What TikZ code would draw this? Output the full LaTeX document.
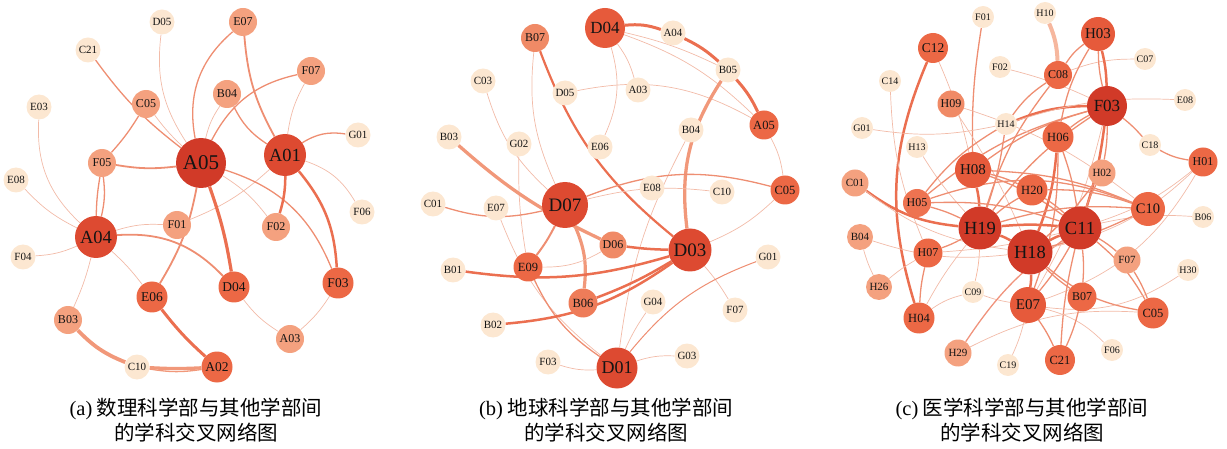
\documentclass[tikz,border=0pt]{standalone}
\usepackage{fontspec}
\setmainfont{Liberation Serif}
\newfontfamily\cjk{Noto Sans CJK SC}
\usetikzlibrary{backgrounds}
\definecolor{cPale}{HTML}{FCE7D1}
\definecolor{cSal}{HTML}{F4A17F}
\definecolor{cSalB}{HTML}{F08A66}
\definecolor{cOrg}{HTML}{EC6845}
\definecolor{cOrgB}{HTML}{E65A3B}
\definecolor{cRed}{HTML}{DD4A31}
\definecolor{cDark}{HTML}{D13A28}
\definecolor{eThin}{HTML}{F2BBA8}
\definecolor{eMid}{HTML}{EE8E72}
\definecolor{eThick}{HTML}{EB6F50}
\definecolor{eWide}{HTML}{F6B79E}
\definecolor{eSalmon}{HTML}{F1987A}
\tikzset{
  nd/.style={circle, inner sep=0pt, draw=none, text=black!92},
  npale/.style={nd, fill=cPale, minimum size=25pt, font=\fontsize{11}{11}\selectfont},
  nsal/.style={nd, fill=cSal, minimum size=28pt, font=\fontsize{12}{12}\selectfont},
  nsalb/.style={nd, fill=cSalB, minimum size=28pt, font=\fontsize{12}{12}\selectfont},
  norg/.style={nd, fill=cOrg, minimum size=31pt, font=\fontsize{13.5}{13.5}\selectfont},
  norgb/.style={nd, fill=cOrgB, minimum size=35pt, font=\fontsize{15}{15}\selectfont},
  nbig/.style={nd, fill=cRed, minimum size=42pt, font=\fontsize{18.5}{18.5}\selectfont},
  nhuge/.style={nd, fill=cDark, minimum size=50pt, font=\fontsize{21}{21}\selectfont},
  ethin/.style={draw=eThin, line width=0.7pt},
  emid/.style={draw=eMid, line width=1.3pt},
  ethick/.style={draw=eThick, line width=2.5pt},
  ewide/.style={draw=eWide, line width=4pt},
  esal/.style={draw=eSalmon, line width=3.3pt},
  cpale/.style={npale, minimum size=22pt, font=\fontsize{10}{10}\selectfont},
  captext/.style={align=center, font={\cjk\fontsize{20.5}{25}\selectfont}}
}
\begin{document}
\begin{tikzpicture}[x=1pt,y=-1pt]
\useasboundingbox (0,0) rectangle (1227,449);
% ---------------- panel (a)
\node[npale] (aD05) at (162,22) {D05};
\node[nsal]  (aE07) at (243,22) {E07};
\node[npale] (aC21) at (88,50) {C21};
\node[nsal]  (aF07) at (311,71) {F07};
\node[nsal]  (aB04) at (227,94) {B04};
\node[nsal]  (aC05) at (146,104) {C05};
\node[npale] (aE03) at (39,107) {E03};
\node[nhuge] (aA05) at (201,163) {A05};
\node[nbig]  (aA01) at (285,155) {A01};
\node[npale] (aG01) at (358,135) {G01};
\node[nsal]  (aF05) at (102,163) {F05};
\node[npale] (aE08) at (16,180) {E08};
\node[npale] (aF06) at (362,212) {F06};
\node[nsal]  (aF01) at (177,225) {F01};
\node[nbig]  (aA04) at (96,237) {A04};
\node[nsal]  (aF02) at (276,227) {F02};
\node[npale] (aF04) at (23,257) {F04};
\node[norg]  (aD04) at (234,287) {D04};
\node[norg]  (aF03) at (338,283) {F03};
\node[norg]  (aE06) at (152,297) {E06};
\node[nsal]  (aB03) at (68,320) {B03};
\node[nsal]  (aA03) at (290,339) {A03};
\node[npale] (aC10) at (137,367) {C10};
\node[norg]  (aA02) at (217,367) {A02};
% ---------------- panel (b)
\node[nsalb] (bB07) at (535,38) {B07};
\node[norgb, minimum size=40pt, font=\fontsize{17}{17}\selectfont] (bD04) at (605,28) {D04};
\node[npale] (bA04) at (673,33) {A04};
\node[npale] (bB05) at (728,70) {B05};
\node[npale] (bC03) at (483,81) {C03};
\node[npale] (bD05) at (565,93) {D05};
\node[npale] (bA03) at (638,90) {A03};
\node[norg, minimum size=29pt, font=\fontsize{12.5}{12.5}\selectfont] (bA05) at (764,125) {A05};
\node[npale] (bB04) at (691,130) {B04};
\node[npale] (bB03) at (449,137) {B03};
\node[npale] (bG02) at (519,144) {G02};
\node[npale] (bE06) at (600,147) {E06};
\node[npale] (bE08) at (652,188) {E08};
\node[npale] (bC10) at (722,192) {C10};
\node[norg, minimum size=29pt, font=\fontsize{12.5}{12.5}\selectfont] (bC05) at (785,190) {C05};
\node[npale] (bC01) at (433,204) {C01};
\node[npale] (bE07) at (496,208) {E07};
\node[nbig, minimum size=46pt, font=\fontsize{19}{19}\selectfont] (bD07) at (565,205) {D07};
\node[nsalb, minimum size=27pt] (bD06) at (613,245) {D06};
\node[nbig, minimum size=43pt, font=\fontsize{19}{19}\selectfont] (bD03) at (690,250) {D03};
\node[norg, minimum size=29pt, font=\fontsize{12.5}{12.5}\selectfont] (bE09) at (528,267) {E09};
\node[npale] (bB01) at (453,270) {B01};
\node[norg, fill=cSalB!60!cOrg, minimum size=29pt, font=\fontsize{12.5}{12.5}\selectfont] (bB06) at (583,303) {B06};
\node[npale] (bG01) at (768,257) {G01};
\node[npale] (bG04) at (653,302) {G04};
\node[npale] (bF07) at (735,310) {F07};
\node[npale] (bB02) at (493,325) {B02};
\node[npale] (bF03) at (548,362) {F03};
\node[npale] (bG03) at (687,356) {G03};
\node[nbig, minimum size=41pt, font=\fontsize{18}{18}\selectfont] (bD01) at (617,368) {D01};
% ---------------- panel (c)
\node[cpale] (cF01) at (983,17) {F01};
\node[cpale] (cH10) at (1045,13) {H10};
\node[norg, minimum size=30pt] (cC12) at (933,48) {C12};
\node[norgb, minimum size=34pt] (cH03) at (1098,34) {H03};
\node[cpale] (cF02) at (1000,67) {F02};
\node[cpale] (cC07) at (1145,59) {C07};
\node[norg, minimum size=28pt, font=\fontsize{12}{12}\selectfont] (cC08) at (1058,75) {C08};
\node[cpale] (cC14) at (890,81) {C14};
\node[nsalb, minimum size=27pt] (cH09) at (951,104) {H09};
\node[nhuge, minimum size=40pt, font=\fontsize{17}{17}\selectfont] (cF03) at (1107,106) {F03};
\node[cpale] (cE08) at (1185,100) {E08};
\node[cpale] (cG01) at (862,128) {G01};
\node[cpale] (cH14) at (1006,124) {H14};
\node[norg, minimum size=31pt, font=\fontsize{12.5}{12.5}\selectfont] (cH06) at (1058,137) {H06};
\node[cpale] (cC18) at (1150,145) {C18};
\node[cpale] (cH13) at (917,147) {H13};
\node[norg, minimum size=29pt, font=\fontsize{12}{12}\selectfont] (cH01) at (1203,162) {H01};
\node[norgb, minimum size=36pt] (cH08) at (973,170) {H08};
\node[nsal, minimum size=27pt, font=\fontsize{11}{11}\selectfont] (cH02) at (1102,173) {H02};
\node[nsal, minimum size=27pt, font=\fontsize{11}{11}\selectfont] (cC01) at (855,183) {C01};
\node[norg, minimum size=31pt, font=\fontsize{12.5}{12.5}\selectfont] (cH20) at (1032,190) {H20};
\node[norg, fill=cOrg!80!cSal, minimum size=28pt, font=\fontsize{12}{12}\selectfont] (cH05) at (917,203) {H05};
\node[norg, minimum size=34pt, font=\fontsize{14.5}{14.5}\selectfont] (cC10) at (1148,209) {C10};
\node[cpale] (cB06) at (1203,217) {B06};
\node[nbig, fill=cDark, minimum size=43pt] (cH19) at (980,228) {H19};
\node[nbig, fill=cDark, minimum size=43pt] (cC11) at (1080,228) {C11};
\node[nbig, fill=cDark, minimum size=45pt] (cH18) at (1030,252) {H18};
\node[norg, minimum size=29pt, font=\fontsize{12}{12}\selectfont] (cH07) at (928,253) {H07};
\node[nsal, minimum size=26pt, font=\fontsize{11}{11}\selectfont] (cB04) at (860,237) {B04};
\node[nsal, minimum size=27pt, font=\fontsize{11}{11}\selectfont] (cF07) at (1127,260) {F07};
\node[cpale] (cH30) at (1188,270) {H30};
\node[nsal, minimum size=26pt, font=\fontsize{11}{11}\selectfont] (cH26) at (879,287) {H26};
\node[cpale] (cC09) at (973,292) {C09};
\node[norg, minimum size=29pt, font=\fontsize{12}{12}\selectfont] (cB07) at (1082,297) {B07};
\node[norgb, minimum size=36pt] (cE07) at (1028,305) {E07};
\node[norg, minimum size=31pt, font=\fontsize{12.5}{12.5}\selectfont] (cC05) at (1153,313) {C05};
\node[norg, minimum size=31pt, font=\fontsize{12.5}{12.5}\selectfont] (cH04) at (919,318) {H04};
\node[cpale] (cF06) at (1112,350) {F06};
\node[nsal, minimum size=27pt, font=\fontsize{11}{11}\selectfont] (cH29) at (958,353) {H29};
\node[norg, minimum size=30pt, font=\fontsize{12.5}{12.5}\selectfont] (cC21) at (1060,360) {C21};
\node[cpale] (cC19) at (1008,365) {C19};
% ---------------- captions
\node[captext] (capa) at (196,420) {{\rmfamily(a)} 数理科学部与其他学部间\\的学科交叉网络图};
\node[captext] (capb) at (606,420) {{\rmfamily(b)} 地球科学部与其他学部间\\的学科交叉网络图};
\node[captext] (capc) at (1022,420) {{\rmfamily(c)} 医学科学部与其他学部间\\的学科交叉网络图};
% ---------------- edges
\begin{scope}[on background layer]
% panel (a)
\draw[ethin] (aD05) to[bend right=20] (aA05);
\draw[emid] (aC21) to[bend right=8] (aA05);
\draw[ethin] (aC05) to[bend right=5] (aA05);
\draw[emid] (aC05) to[bend left=5] (aF05);
\draw[emid] (aE07) to[bend right=30] (aA05);
\draw[emid, line width=1.8pt] (aE07) to[bend right=12] (aA01);
\draw[ethin] (aB04) to[bend right=10] (aA05);
\draw[emid] (aB04) to[bend right=15] (aA01);
\draw[emid] (aF07) to[bend right=25] (aA05);
\draw[ethin] (aF07) to[bend right=10] (aA01);
\draw[emid] (aG01) to[bend right=20] (aA01);
\draw[emid, line width=1.8pt] (aF05) to[bend right=8] (aA05);
\draw[emid] (aF05) to[bend left=10] (aA04);
\draw[emid] (aF05) to[bend right=4] (aA04);
\draw[ethin] (aE03) to[bend right=25] (aA04);
\draw[ethin] (aE08) to[bend right=10] (aA04);
\draw[ethin] (aF04) to[bend right=10] (aA04);
\draw[ethin] (aF01) to[bend right=10] (aA04);
\draw[ethin] (aF01) to[bend right=10] (aA01);
\draw[emid, line width=1.8pt] (aA04) to[bend left=25] (aD04);
\draw[ethin] (aA04) to[bend left=5] (aE06);
\draw[ethin] (aA04) to[bend left=5] (aB03);
\draw[ethick, line width=3.2pt] (aA05) to[bend left=5] (aD04);
\draw[emid, line width=1.8pt] (aA05) to[bend left=10] (aE06);
\draw[emid] (aA05) to[bend left=25] (aF03);
\draw[ethin] (aA05) to[bend left=10] (aF02);
\draw[ethick] (aA01) to[bend left=8] (aF02);
\draw[ethick] (aA01) to[bend left=18] (aF03);
\draw[ethin] (aA01) to[bend left=20] (aF06);
\draw[ethin] (aD04) to[bend right=10] (aA03);
\draw[ethin] (aA03) to[bend right=8] (aF03);
\draw[ethick, line width=3pt] (aE06) to[bend right=5] (aA02);
\draw[esal, line width=3.8pt] (aB03) to[bend right=12] (aC10);
\draw[esal] (aC10) to[bend right=3] (aA02);
\draw[emid, draw=eSalmon] (aC10) to[bend right=9] (aA02);
% panel (b)
\draw[ethick, line width=3pt] (bD04) to[bend left=12] (bA04);
\draw[ethick, line width=3pt] (bA04) to[bend left=8] (bB05);
\draw[ethick, line width=3pt] (bB05) to[bend left=8] (bA05);
\draw[ethin] (bD04) to[bend left=12] (bA05);
\draw[ethin] (bD04) to[bend left=6] (bB05);
\draw[ethin] (bD04) to[bend left=10] (bA03);
\draw[ethin] (bD04) to[bend left=20] (bE06);
\draw[ethin] (bD05) to[bend left=20] (bA05);
\draw[esal] (bB05) to[bend right=20] (bD03);
\draw[ethin] (bB04) to[bend right=10] (bD01);
\draw[emid, line width=2.2pt, draw=eThick] (bB07) to[bend right=15] (bD03);
\draw[ethin] (bB07) to[bend right=15] (bD07);
\draw[ethin] (bC03) to[bend right=15] (bD07);
\draw[ethin] (bG02) to[bend right=5] (bE09);
\draw[esal] (bB03) to[bend right=8] (bD06);
\draw[emid] (bC01) to[bend right=15] (bD07);
\draw[ethin] (bE07) to[bend right=15] (bD01);
\draw[emid, line width=2pt] (bD07) to[bend left=5] (bE09);
\draw[ethick, line width=3.2pt, draw=eSalmon] (bD07) to[bend left=15] (bB06);
\draw[emid] (bD07) to[bend left=18] (bC05);
\draw[ethin] (bD07) to[bend left=10] (bC10);
\draw[ethin] (bE09) to[bend right=15] (bD06);
\draw[emid] (bE09) to[bend right=15] (bD01);
\draw[ethick] (bB01) to[bend right=12] (bD03);
\draw[ethick] (bB02) to[bend right=15] (bD03);
\draw[ethick] (bB06) to[bend right=5] (bD03);
\draw[ethick] (bD06) to[bend right=3] (bD03);
\draw[ethin] (bD03) to[bend left=5] (bF07);
\draw[ethin] (bD03) to[bend right=10] (bC05);
\draw[ethin] (bA05) to[bend left=10] (bC05);
\draw[emid, line width=1pt] (bG01) to[bend right=15] (bD01);
\draw[ethin] (bG04) to[bend right=5] (bD01);
\draw[ethin] (bG03) to[bend right=10] (bD01);
\draw[ethin] (bF03) to[bend right=10] (bD01);
% panel (c)
\draw[ewide] (cH10) to[bend left=10] (cC08);
\draw[emid] (cC08) to[bend left=10] (cH03);
\draw[ethin] (cC07) to[bend right=10] (cC08);
\draw[emid] (cC08) to[bend right=10] (cH14);
\draw[emid] (cC08) to[bend right=10] (cH19);
\draw[ethick] (cH03) to[bend left=6] (cF03);
\draw[emid] (cH03) to[bend right=6] (cF03);
\draw[emid] (cH03) to[bend right=10] (cH06);
\draw[ethick] (cF03) to[bend right=10] (cH14);
\draw[emid] (cF03) to[bend right=5] (cH06);
\draw[emid] (cF03) to[bend right=10] (cH08);
\draw[emid] (cF03) to[bend right=10] (cH19);
\draw[emid] (cF03) to[bend left=5] (cH02);
\draw[emid] (cF03) to[bend left=5] (cC18);
\draw[ethick] (cF03) to[bend left=5] (cC11);
\draw[emid] (cF03) to[bend right=12] (cH05);
\draw[ethin] (cF03) to[bend left=8] (cE07);
\draw[ethin] (cE08) to[bend right=10] (cH14);
\draw[emid] (cC18) to[bend right=10] (cH01);
\draw[ethin] (cH01) to[bend left=10] (cC11);
\draw[ethin] (cH01) to[bend left=20] (cE07);
\draw[emid] (cF01) to[bend right=5] (cH08);
\draw[ethin] (cF02) to[bend left=5] (cF03);
\draw[ethick] (cC12) to[bend right=20] (cH04);
\draw[ethin] (cC12) to[bend left=5] (cH08);
\draw[ethin] (cC14) to[bend right=10] (cH07);
\draw[ethin] (cH09) to[bend left=5] (cH18);
\draw[ethin] (cH09) to[bend left=10] (cC10);
\draw[ethin] (cG01) to[bend right=10] (cH14);
\draw[ethin] (cH13) to[bend right=5] (cH19);
\draw[ethick] (cC01) to[bend right=15] (cH19);
\draw[ethin] (cC01) to[bend right=15] (cH18);
\draw[emid] (cH14) to[bend right=10] (cH05);
\draw[emid] (cH14) to[bend left=5] (cH19);
\draw[ethick] (cH08) to[bend left=5] (cH19);
\draw[emid] (cH08) to[bend left=8] (cC11);
\draw[emid] (cH08) to[bend left=5] (cH20);
\draw[emid] (cH08) to[bend left=10] (cC10);
\draw[emid] (cH06) to[bend left=5] (cC11);
\draw[ethick] (cH06) to[bend left=8] (cH18);
\draw[emid] (cH06) to[bend left=10] (cE07);
\draw[emid] (cH20) to[bend left=5] (cC11);
\draw[emid] (cH20) to[bend right=5] (cH19);
\draw[emid] (cH20) to[bend left=10] (cC10);
\draw[ethick] (cH19) to[bend left=5] (cC11);
\draw[ethick] (cH19) to[bend left=5] (cH18);
\draw[emid] (cH19) to[bend left=5] (cH07);
\draw[emid] (cH19) to[bend left=10] (cC10);
\draw[ethin] (cH19) to[bend right=5] (cH04);
\draw[ethick] (cH18) to[bend left=5] (cC11);
\draw[ethick] (cH18) to[bend left=5] (cE07);
\draw[emid] (cH18) to[bend right=5] (cB07);
\draw[emid] (cH18) to[bend right=15] (cC05);
\draw[emid] (cC11) to[bend left=5] (cE07);
\draw[emid] (cC11) to[bend left=5] (cF07);
\draw[emid] (cC11) to[bend left=10] (cC05);
\draw[emid] (cC11) to[bend left=5] (cB07);
\draw[emid] (cC11) to[bend right=5] (cC21);
\draw[emid] (cC10) to[bend right=20] (cH05);
\draw[ethin] (cB06) to[bend right=8] (cC11);
\draw[ethin] (cH30) to[bend left=20] (cE07);
\draw[ethin] (cB04) to[bend right=5] (cH26);
\draw[ethin] (cB04) to[bend right=12] (cH18);
\draw[emid] (cH07) to[bend right=5] (cH04);
\draw[ethin] (cH04) to[bend left=10] (cC09);
\draw[ethin] (cC09) to[bend right=5] (cE07);
\draw[ethin, draw=eWide] (cC09) to[bend right=5] (cH19);
\draw[emid, draw=eThick!75!white] (cH29) to[bend left=10] (cC11);
\draw[ethin] (cH29) to[bend left=15] (cC05);
\draw[ethin] (cC19) to[bend right=5] (cE07);
\draw[ethin] (cF06) to[bend right=15] (cE07);
\draw[emid] (cE07) to[bend left=5] (cC21);
\draw[emid] (cB07) to[bend left=5] (cC21);
\draw[emid] (cF07) to[bend left=5] (cC05);
\draw[ethin] (cH01) to[bend left=15] (cH18);
\draw[emid] (cH05) to[bend left=5] (cH19);
\draw[emid] (cH05) to[bend left=10] (cC11);
\draw[emid] (cH02) to[bend right=5] (cC11);
\draw[emid] (cH02) to[bend left=5] (cH18);
\draw[ethin] (cH07) to[bend right=5] (cC11);
\draw[emid] (cC10) to[bend left=5] (cH18);
\draw[ethin] (cH26) to[bend left=5] (cH07);
\end{scope}
\end{tikzpicture}
\end{document}
